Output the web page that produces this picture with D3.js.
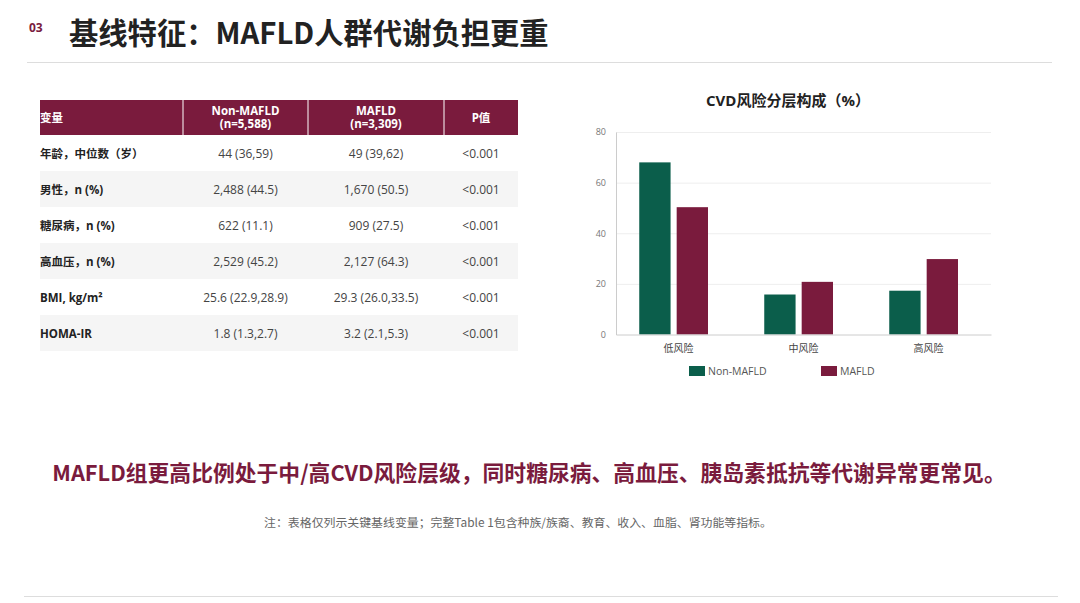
<!DOCTYPE html>
<html>
<head>
<meta charset="utf-8">
<script src="https://cdn.jsdelivr.net/npm/d3@7"></script>
<style>
  html, body { margin: 0; padding: 0; background: #fff; }
  svg { display: block; font-family: "Open Sans", "Noto Sans CJK SC", sans-serif; }
</style>
</head>
<body>
<svg id="slide" width="1080" height="603"></svg>
<script>
// table data
const tableHeaders = ["变量", "Non-MAFLD\n(n=5,588)", "MAFLD\n(n=3,309)", "P值"];
const rowLabels = ["年龄，中位数（岁）", "男性，n (%)", "糖尿病，n (%)", "高血压，n (%)", "BMI, kg/m²", "HOMA-IR"];
const nonMafldCol = ["44 (36,59)", "2,488 (44.5)", "622 (11.1)", "2,529 (45.2)", "25.6 (22.9,28.9)", "1.8 (1.3,2.7)"];
const mafldCol = ["49 (39,62)", "1,670 (50.5)", "909 (27.5)", "2,127 (64.3)", "29.3 (26.0,33.5)", "3.2 (2.1,5.3)"];
const pCol = ["<0.001", "<0.001", "<0.001", "<0.001", "<0.001", "<0.001"];

// chart data
const riskCats = ["低风险", "中风险", "高风险"];
const seriesNames = ["Non-MAFLD", "MAFLD"];
const nonMafldPct = [68.0, 15.8, 17.3];
const mafldPct = [50.3, 20.8, 29.8];
const yTicks = [0, 20, 40, 60, 80];

const GREEN = "#0b5e4b", MAROON = "#7a1b3d";
const svg = d3.select("#slide");

// header
svg.append("text").attr("x", 29).attr("y", 32)
    .attr("font-size", 12).attr("font-weight", 700).attr("fill", MAROON).text("03");
svg.append("text").attr("x", 69).attr("y", 44)
    .attr("font-size", 29.3).attr("font-weight", 700).attr("fill", "#222")
    .attr("font-family", "'Noto Sans CJK SC', sans-serif")
    .text("基线特征：MAFLD人群代谢负担更重");
svg.append("line").attr("x1", 27).attr("x2", 1052).attr("y1", 62.5).attr("y2", 62.5)
    .attr("stroke", "#ddd").attr("stroke-width", 1);
svg.append("line").attr("x1", 24).attr("x2", 1058).attr("y1", 596.5).attr("y2", 596.5)
    .attr("stroke", "#ddd").attr("stroke-width", 1);

// ---- table ----
const colEdges = [40, 183, 308, 444, 518];
const headTop = 100, headH = 35, rowH = 36;
const table = svg.append("g");

table.append("rect").attr("x", colEdges[0]).attr("y", headTop)
    .attr("width", colEdges[4] - colEdges[0]).attr("height", headH).attr("fill", MAROON);
colEdges.slice(1, 4).forEach(x => {
    table.append("line").attr("x1", x).attr("x2", x).attr("y1", headTop).attr("y2", headTop + headH)
        .attr("stroke", "#fff").attr("stroke-width", 1);
});
tableHeaders.forEach((h, i) => {
    const lines = h.split("\n");
    const cx = i === 0 ? colEdges[0] : (colEdges[i] + colEdges[i + 1]) / 2;
    const t = table.append("text")
        .attr("x", cx)
        .attr("text-anchor", i === 0 ? "start" : "middle")
        .attr("font-size", 11.5).attr("font-weight", 700).attr("fill", "#fff");
    const y0 = headTop + headH / 2 - (lines.length - 1) * 6.5 + 4;
    lines.forEach((l, k) => t.append("tspan").attr("x", cx).attr("y", y0 + k * 13).text(l));
});

const rows = rowLabels.map((lab, i) => [lab, nonMafldCol[i], mafldCol[i], pCol[i]]);
const rowG = table.selectAll("g.row").data(rows).enter().append("g")
    .attr("class", "row")
    .attr("transform", (d, i) => `translate(0, ${headTop + headH + i * rowH})`);
rowG.filter((d, i) => i % 2 === 1).append("rect")
    .attr("x", colEdges[0]).attr("width", colEdges[4] - colEdges[0])
    .attr("height", rowH).attr("fill", "#f5f5f5");
rowG.selectAll("text").data(d => d).enter().append("text")
    .attr("x", (d, i) => i === 0 ? colEdges[0] : (colEdges[i] + colEdges[i + 1]) / 2)
    .attr("y", rowH / 2 + 4.5)
    .attr("text-anchor", (d, i) => i === 0 ? "start" : "middle")
    .attr("font-size", (d, i) => i === 0 ? 11.5 : 12)
    .attr("font-weight", (d, i) => i === 0 ? 700 : 400)
    .attr("fill", (d, i) => i === 0 ? "#222" : "#444")
    .text(d => d);

// ---- bar chart ----
const plot = { left: 616, right: 991, top: 132, bottom: 334.5 };
const chart = svg.append("g");

chart.append("text").attr("x", 788).attr("y", 106).attr("text-anchor", "middle")
    .attr("font-size", 15).attr("font-weight", 700).attr("fill", "#222")
    .text("CVD风险分层构成（%）");

const y = d3.scaleLinear().domain([0, 80]).range([plot.bottom, plot.top]);
const x0 = d3.scaleBand().domain(riskCats).range([plot.left, plot.right]);
const bw = x0.bandwidth();
const x1 = d3.scaleBand().domain(seriesNames).range([bw * 0.186, bw * 0.736]).paddingInner(0.163);
const color = d3.scaleOrdinal().domain(seriesNames).range([GREEN, MAROON]);

// grid
chart.selectAll("line.grid").data(yTicks.slice(1)).enter().append("line")
    .attr("x1", plot.left).attr("x2", plot.right)
    .attr("y1", d => y(d) + 0.5).attr("y2", d => y(d) + 0.5)
    .attr("stroke", "#eee").attr("stroke-width", 1);

const yAxis = chart.append("g").attr("transform", `translate(${plot.left},0)`)
    .call(d3.axisLeft(y).tickValues(yTicks).tickSize(0).tickPadding(10));
yAxis.select(".domain").attr("stroke", "#ccc");
yAxis.selectAll("text").attr("font-size", 9).attr("fill", "#777").attr("font-family", "'Open Sans', sans-serif");

const barData = riskCats.map((c, i) => ({ cat: c, vals: [
    { s: seriesNames[0], v: nonMafldPct[i] },
    { s: seriesNames[1], v: mafldPct[i] }
] }));

const grp = chart.selectAll("g.grp").data(barData).enter().append("g")
    .attr("transform", d => `translate(${x0(d.cat)},0)`);
grp.selectAll("rect").data(d => d.vals).enter().append("rect")
    .attr("x", d => x1(d.s)).attr("width", x1.bandwidth())
    .attr("y", d => y(d.v)).attr("height", d => y(0) - y(d.v))
    .attr("fill", d => color(d.s));

const xAxis = chart.append("g").attr("transform", `translate(0,${plot.bottom})`)
    .call(d3.axisBottom(x0).tickSize(0).tickPadding(10));
xAxis.select(".domain").attr("stroke", "#ccc");
xAxis.selectAll("text").attr("font-size", 10).attr("fill", "#444")
    .attr("font-family", "'Noto Sans CJK SC', sans-serif");

// legend
const legX = [689, 821];
const leg = chart.selectAll("g.leg").data(seriesNames).enter().append("g")
    .attr("transform", (d, i) => `translate(${legX[i]},366)`);
leg.append("rect").attr("width", 16).attr("height", 10).attr("fill", d => color(d));
leg.append("text").attr("x", 19).attr("y", 9).attr("font-size", 10.5).attr("fill", "#555").text(d => d);

// conclusions
svg.append("text").attr("x", 529).attr("y", 481).attr("text-anchor", "middle")
    .attr("font-size", 21.8).attr("font-weight", 700).attr("fill", MAROON)
    .attr("font-family", "'Noto Sans CJK SC', sans-serif")
    .text("MAFLD组更高比例处于中/高CVD风险层级，同时糖尿病、高血压、胰岛素抵抗等代谢异常更常见。");
svg.append("text").attr("x", 518).attr("y", 527).attr("text-anchor", "middle")
    .attr("font-size", 11.9).attr("fill", "#666")
    .attr("font-family", "'Noto Sans CJK SC', sans-serif")
    .text("注：表格仅列示关键基线变量；完整Table 1包含种族/族裔、教育、收入、血脂、肾功能等指标。");
</script>
</body>
</html>
